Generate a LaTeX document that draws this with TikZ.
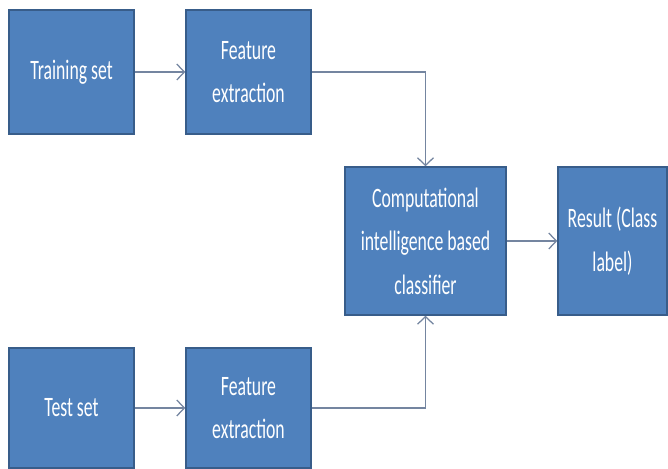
\documentclass[tikz,border=0pt]{standalone}
\usepackage{fontspec}
\setmainfont{Carlito}[FakeStretch=0.63]
\usetikzlibrary{arrows.meta}
\usetikzlibrary{positioning}

\definecolor{boxfill}{HTML}{4F81BD}
\definecolor{boxline}{HTML}{385D8A}
\definecolor{wire}{HTML}{7485A0}

\tikzset{
    block/.style = {draw = boxline, line width = 1.1pt, fill = boxfill,
        text = white, align = center, inner sep = 0pt,
        font = \fontsize{20pt}{31pt}\selectfont},
    wirel/.style = {draw = wire, line width = 0.9pt},
}

\begin{document}
\begin{tikzpicture}
    [   > = {Straight Barb[length=1.9mm, width=4mm]}
    ]
    \useasboundingbox (0mm,0mm) rectangle (167mm,117.25mm);

    % left column: inputs
    \node[block, minimum width = 31.25mm, minimum height = 31mm]
        (train) at (17.875mm,99.25mm) {Training set};
    \node[block, minimum width = 31.25mm, minimum height = 30mm]
        (test) at (17.875mm,15.25mm) {Test set};

    % feature extraction
    \node[block, minimum width = 31.25mm, minimum height = 31mm]
        (featA) at (62.125mm,99.25mm) {Feature\\extraction};
    \node[block, minimum width = 31.25mm, minimum height = 30mm]
        (featB) at (62.125mm,15.25mm) {Feature\\extraction};

    % classifier and output
    \node[block, minimum width = 40.25mm, minimum height = 37mm]
        (clf) at (106.375mm,57mm) {Computational\\intelligence based\\classifier};
    \node[block, minimum width = 27.25mm, minimum height = 37mm]
        (result) at (153.125mm,57mm) {Result (Class\\label)};

    \draw[wirel, ->] (train) -- (featA);
    \draw[wirel, ->] (test) -- (featB);
    \draw[wirel, ->] (featA) -| (clf);
    \draw[wirel, ->] (featB) -| (clf);
    \draw[wirel, ->] (clf) -- (result);
\end{tikzpicture}
\end{document}
